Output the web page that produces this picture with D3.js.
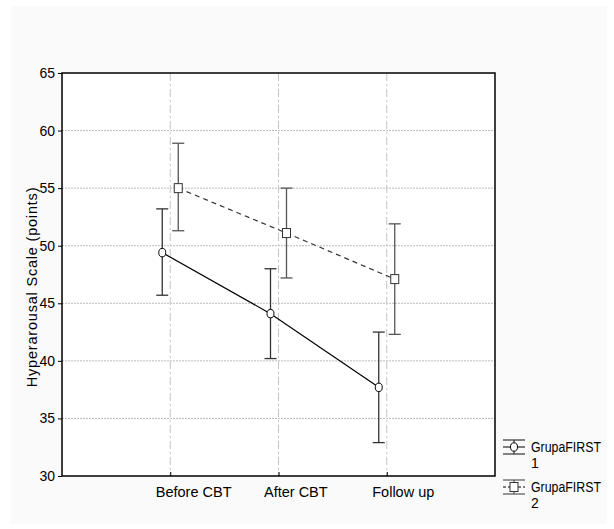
<!DOCTYPE html>
<html>
<head>
<meta charset="utf-8">
<script src="https://cdn.jsdelivr.net/npm/d3@7"></script>
<style>
  body { margin: 0; background: #fff; }
  svg text { font-family: "Liberation Sans", Arial, sans-serif; fill: #000; }
</style>
</head>
<body>
<svg id="chart" width="614" height="529"></svg>
<script>
// chart values
var categories = ["Before CBT", "After CBT", "Follow up"];
var groups = ["1", "2"];
var means1 = [49.4, 44.1, 37.7];
var upper1 = [53.2, 48.0, 42.5];
var lower1 = [45.7, 40.2, 32.9];
var means2 = [55.0, 51.1, 47.1];
var upper2 = [58.9, 55.0, 51.9];
var lower2 = [51.3, 47.2, 42.3];
var yTicks = [30, 35, 40, 45, 50, 55, 60, 65];

var series = [
  { name: groups[0], means: means1, upper: upper1, lower: lower1, offset: -8, marker: "circle", dash: null, barColor: "#333" },
  { name: groups[1], means: means2, upper: upper2, lower: lower2, offset: 8, marker: "square", dash: "5,4", barColor: "#555" }
];

var margin = { top: 73, left: 62 };

var svg = d3.select("#chart");

// outer panel
svg.append("rect")
  .attr("x", 11).attr("y", 6)
  .attr("width", 596).attr("height", 518)
  .attr("fill", "#fafafa");

var x = d3.scaleLinear().domain([0, 4]).range([margin.left, 495]);
var y = d3.scaleLinear().domain([30, 65]).range([476, margin.top]);

var g = svg.append("g");

g.append("rect")
  .attr("x", x(0)).attr("y", y(65))
  .attr("width", x(4) - x(0)).attr("height", y(30) - y(65))
  .attr("fill", "#fff");

// horizontal grid
g.selectAll(".hgrid")
  .data(yTicks.filter(function(d) { return d > 30 && d < 65; }))
  .enter()
  .append("line")
  .attr("x1", x(0)).attr("x2", x(4))
  .attr("y1", function(d) { return y(d); })
  .attr("y2", function(d) { return y(d); })
  .attr("stroke", "#bbb")
  .attr("stroke-width", 1)
  .attr("stroke-dasharray", "2,1");

// vertical grid
g.selectAll(".vgrid")
  .data(categories)
  .enter()
  .append("line")
  .attr("x1", function(d, i) { return x(i + 1); })
  .attr("x2", function(d, i) { return x(i + 1); })
  .attr("y1", y(65)).attr("y2", y(30))
  .attr("stroke", "#c4c4c4")
  .attr("stroke-width", 1)
  .attr("stroke-dasharray", "8,3,2,3");

// frame
g.append("rect")
  .attr("x", x(0)).attr("y", y(65))
  .attr("width", x(4) - x(0)).attr("height", y(30) - y(65))
  .attr("fill", "none")
  .attr("stroke", "#000")
  .attr("stroke-width", 1.5);

// y axis
var yAxis = d3.axisLeft(y).tickValues(yTicks).tickSize(4).tickFormat(d3.format("d"));
g.append("g")
  .attr("transform", "translate(" + x(0) + ",0)")
  .call(yAxis)
  .call(function(a) {
    a.select(".domain").remove();
    a.selectAll("text").attr("font-size", 14).attr("font-family", null).attr("x", -7);
  });

// x axis (labels start a little left of each tick, as in the original)
var xAxis = d3.axisBottom(x).tickValues([1, 2, 3]).tickSize(-4)
  .tickFormat(function(d) { return categories[d - 1]; });
g.append("g")
  .attr("transform", "translate(0," + y(30) + ")")
  .call(xAxis)
  .call(function(a) {
    a.select(".domain").remove();
    a.selectAll("text")
      .attr("font-size", 14.5)
      .attr("font-family", null)
      .attr("text-anchor", "start")
      .attr("x", -15)
      .attr("y", 11);
  });

// y label
svg.append("text")
  .attr("transform", "translate(37," + 287 + ") rotate(-90)")
  .attr("text-anchor", "middle")
  .attr("font-size", 14.5)
  .attr("letter-spacing", 0.8)
  .text("Hyperarousal Scale (points)");

var line = d3.line()
  .x(function(d) { return d[0]; })
  .y(function(d) { return d[1]; });

series.forEach(function(s) {
  var pts = s.means.map(function(m, i) { return [x(i + 1) + s.offset, y(m)]; });

  g.append("path")
    .datum(pts)
    .attr("d", line)
    .attr("fill", "none")
    .attr("stroke", s.dash ? "#333" : "#000")
    .attr("stroke-width", 1.2)
    .attr("stroke-dasharray", s.dash);

  var bars = g.append("g").selectAll("g")
    .data(s.means)
    .enter()
    .append("g");

  bars.append("line")
    .attr("x1", function(d, i) { return x(i + 1) + s.offset; })
    .attr("x2", function(d, i) { return x(i + 1) + s.offset; })
    .attr("y1", function(d, i) { return y(s.upper[i]); })
    .attr("y2", function(d, i) { return y(s.lower[i]); })
    .attr("stroke", s.barColor)
    .attr("stroke-width", 1.3);

  [s.upper, s.lower].forEach(function(arr) {
    bars.append("line")
      .attr("x1", function(d, i) { return x(i + 1) + s.offset - 6; })
      .attr("x2", function(d, i) { return x(i + 1) + s.offset + 6; })
      .attr("y1", function(d, i) { return y(arr[i]); })
      .attr("y2", function(d, i) { return y(arr[i]); })
      .attr("stroke", s.barColor)
      .attr("stroke-width", 1.3);
  });

  if (s.marker === "circle") {
    bars.append("ellipse")
      .attr("cx", function(d, i) { return x(i + 1) + s.offset; })
      .attr("cy", function(d) { return y(d); })
      .attr("rx", 3.5).attr("ry", 4.2)
      .attr("fill", "#fff").attr("stroke", "#000").attr("stroke-width", 1);
  } else {
    bars.append("rect")
      .attr("x", function(d, i) { return x(i + 1) + s.offset - 4; })
      .attr("y", function(d) { return y(d) - 4.5; })
      .attr("width", 8).attr("height", 9)
      .attr("fill", "#fff").attr("stroke", "#333").attr("stroke-width", 1);
  }
});

// legend
var legend = svg.append("g").attr("transform", "translate(503,447)");
series.forEach(function(s, i) {
  var lg = legend.append("g").attr("transform", "translate(0," + (i * 40) + ")");
  var cx = 11;
  lg.append("line").attr("x1", 0).attr("x2", 22).attr("y1", -7).attr("y2", -7).attr("stroke", s.barColor).attr("stroke-width", 1.2);
  lg.append("line").attr("x1", 0).attr("x2", 22).attr("y1", 7).attr("y2", 7).attr("stroke", s.barColor).attr("stroke-width", 1.2);
  lg.append("line").attr("x1", cx).attr("x2", cx).attr("y1", -7).attr("y2", 7).attr("stroke", s.barColor).attr("stroke-width", 1.2);
  lg.append("line").attr("x1", 0).attr("x2", 22).attr("y1", 0).attr("y2", 0)
    .attr("stroke", "#000").attr("stroke-width", 1).attr("stroke-dasharray", s.dash ? "3,2" : null);
  if (s.marker === "circle") {
    lg.append("ellipse").attr("cx", cx).attr("cy", 0).attr("rx", 3.5).attr("ry", 4.2)
      .attr("fill", "#fff").attr("stroke", "#000");
  } else {
    lg.append("rect").attr("x", cx - 4).attr("y", -4.5).attr("width", 8).attr("height", 9)
      .attr("fill", "#fff").attr("stroke", "#333");
  }
  lg.append("text").attr("x", 28).attr("y", 5).attr("font-size", 14)
    .attr("textLength", 70).attr("lengthAdjust", "spacingAndGlyphs").text("GrupaFIRST");
  lg.append("text").attr("x", 28).attr("y", 21).attr("font-size", 14).text(s.name);
});
</script>
</body>
</html>
